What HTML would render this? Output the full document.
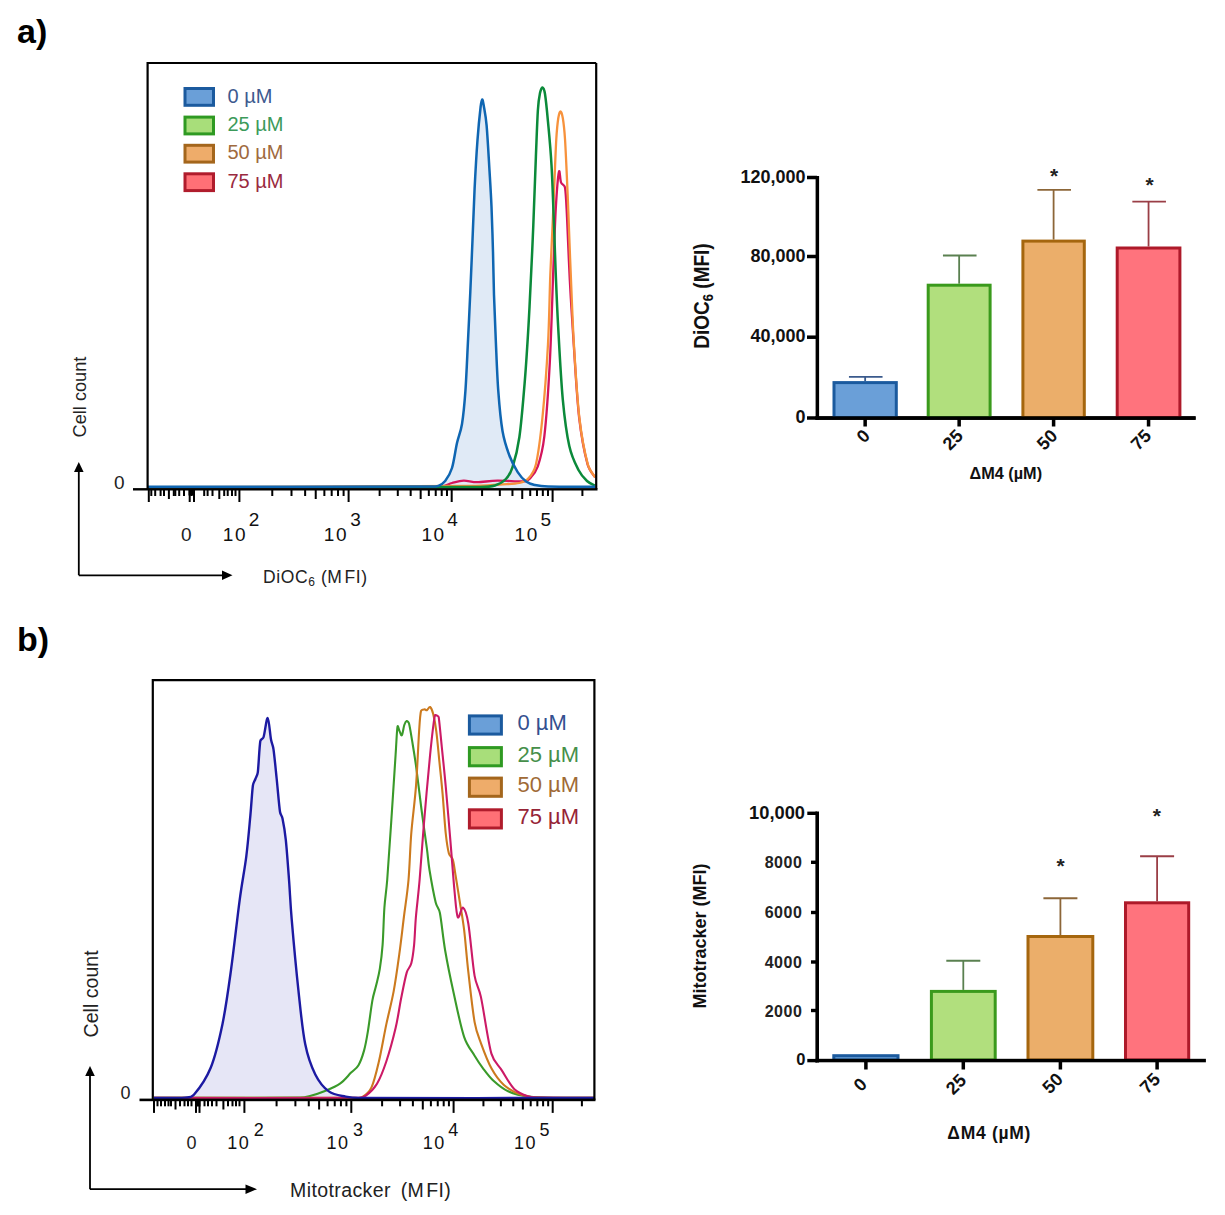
<!DOCTYPE html>
<html><head><meta charset="utf-8"><style>
html,body{margin:0;padding:0;background:#fff;}
body{width:1225px;height:1215px;overflow:hidden;}
svg{display:block;font-family:"Liberation Sans", sans-serif;}
</style></head><body>
<svg width="1225" height="1215" viewBox="0 0 1225 1215">
<rect width="1225" height="1215" fill="#fff"/>
<text x="17.00" y="42.50" font-size="34.00" fill="#000" font-weight="bold" text-anchor="start" >a)</text>
<text x="17.00" y="651.20" font-size="34.00" fill="#000" font-weight="bold" text-anchor="start" >b)</text>
<path d="M148.00,486.80 C195.00,486.77 381.60,486.77 430.00,486.60 C433.80,486.59 435.87,486.73 438.40,485.80 C440.93,484.87 442.93,483.97 445.20,481.00 C447.47,478.03 450.04,474.30 452.00,468.00 C453.97,461.67 455.33,450.33 457.00,443.00 C458.67,435.67 460.60,432.63 462.00,424.00 C463.40,415.37 464.40,405.10 465.40,391.20 C466.40,377.30 467.18,357.13 468.00,340.60 C468.82,324.07 469.55,308.77 470.30,292.00 C471.05,275.23 471.78,257.22 472.50,240.00 C473.22,222.78 473.77,205.37 474.60,188.70 C475.43,172.03 476.50,153.62 477.50,140.00 C478.50,126.38 479.82,113.75 480.60,107.00 C481.00,103.57 481.67,99.67 482.20,99.50 C482.73,99.33 483.29,103.03 483.80,106.00 C484.53,110.30 485.83,116.56 486.60,125.30 C487.55,136.07 488.68,157.02 489.50,170.60 C490.32,184.18 490.92,193.23 491.50,206.80 C492.08,220.37 492.58,237.30 493.00,252.00 C493.42,266.70 493.53,280.23 494.00,295.00 C494.47,309.77 495.08,324.57 495.80,340.60 C496.52,356.63 497.18,376.13 498.30,391.20 C499.42,406.27 500.67,420.32 502.50,431.00 C504.33,441.68 506.77,448.45 509.30,455.30 C511.83,462.15 514.90,467.73 517.70,472.10 C520.50,476.47 523.22,479.35 526.10,481.50 C528.98,483.65 531.35,484.15 535.00,485.00 C538.65,485.85 542.11,486.42 548.00,486.60 C558.00,486.90 587.17,486.77 595.00,486.80 L595,488 L148,488 Z" fill="#e0eaf6" stroke="none"/>
<path d="M148.00,487.20 C196.67,487.13 389.33,487.50 440.00,486.80 C445.66,486.72 448.05,484.03 452.00,483.00 C455.95,481.97 459.50,480.73 463.70,480.60 C467.90,480.47 471.57,482.20 477.20,482.20 C482.83,482.20 489.63,480.73 497.50,480.60 C505.37,480.47 518.98,481.75 524.40,481.40 C527.23,481.22 528.12,480.62 530.00,478.50 C532.23,475.98 535.69,472.47 537.80,466.30 C540.18,459.33 542.73,450.25 544.30,436.70 C546.30,419.42 548.30,390.38 549.80,362.60 C551.30,334.82 552.30,295.72 553.30,270.00 C554.30,244.28 554.87,224.63 555.80,208.30 C556.73,191.97 558.03,176.33 558.90,172.00 C559.77,167.67 559.98,179.72 561.00,182.30 C562.02,184.88 564.50,184.59 565.00,187.50 C566.00,193.28 566.31,203.71 567.00,217.00 C567.80,232.42 568.68,258.83 569.80,280.00 C570.92,301.17 572.13,321.00 573.70,344.00 C575.27,367.00 576.88,397.93 579.20,418.00 C581.52,438.07 584.93,454.50 587.60,464.40 C589.36,470.94 593.93,475.23 595.20,477.40" fill="none" stroke="#d4145c" stroke-width="2.3"/>
<path d="M148.00,487.20 C201.67,487.00 411.33,486.45 470.00,486.00 C483.52,485.90 491.78,485.00 500.00,484.50 C508.22,484.00 514.55,484.03 519.30,483.00 C523.84,482.01 525.73,481.40 528.50,478.30 C531.27,475.20 534.31,471.31 535.90,464.40 C538.22,454.35 540.38,438.07 542.40,418.00 C544.42,397.93 546.68,367.83 548.00,344.00 C549.32,320.17 549.50,295.67 550.30,275.00 C551.10,254.33 552.10,235.83 552.80,220.00 C553.50,204.17 553.92,193.50 554.50,180.00 C555.08,166.50 555.67,149.33 556.30,139.00 C556.88,129.53 557.60,122.58 558.30,118.00 C558.77,114.95 559.75,111.50 560.50,111.50 C561.25,111.50 562.30,114.94 562.80,118.00 C563.55,122.58 564.39,129.52 565.00,139.00 C565.78,151.17 566.75,173.70 567.50,191.00 C568.25,208.30 568.95,228.80 569.50,242.80 C570.05,256.80 570.17,260.51 570.80,275.00 C571.53,291.87 572.47,320.17 573.90,344.00 C575.33,367.83 577.08,397.93 579.40,418.00 C581.72,438.07 585.17,454.50 587.80,464.40 C589.53,470.91 593.97,475.23 595.20,477.40" fill="none" stroke="#f7923c" stroke-width="2.3"/>
<path d="M148.00,487.20 C203.33,487.17 422.17,487.28 480.00,487.00 C486.78,486.97 490.68,486.83 495.00,485.50 C499.32,484.17 502.97,482.08 505.90,479.00 C508.83,475.92 510.71,472.89 512.60,467.00 C514.85,460.00 517.45,450.70 519.40,437.00 C521.43,422.68 523.28,399.67 524.80,381.10 C526.32,362.53 527.42,344.12 528.50,325.60 C529.58,307.08 530.50,286.68 531.30,270.00 C532.10,253.32 532.53,244.43 533.30,225.50 C534.07,206.57 535.13,175.65 535.90,156.40 C536.67,137.15 537.22,120.57 537.90,110.00 C538.40,102.31 539.23,96.75 540.00,93.00 C540.54,90.34 541.67,87.33 542.50,87.50 C543.33,87.67 544.50,90.91 545.00,94.00 C545.92,99.72 546.92,109.97 548.00,121.80 C549.08,133.63 550.50,147.72 551.50,165.00 C552.50,182.28 553.32,208.00 554.00,225.50 C554.68,243.00 554.92,253.32 555.60,270.00 C556.28,286.68 556.90,304.00 558.10,325.60 C559.30,347.20 560.93,379.55 562.80,399.60 C564.67,419.65 566.68,434.17 569.30,445.90 C571.83,457.23 575.55,464.15 578.50,470.00 C581.32,475.59 584.25,478.42 587.00,481.00 C589.75,483.58 593.67,484.75 595.00,485.50" fill="none" stroke="#0b8a3a" stroke-width="2.5"/>
<path d="M148.00,486.80 C195.00,486.77 381.60,486.77 430.00,486.60 C433.80,486.59 435.87,486.73 438.40,485.80 C440.93,484.87 442.93,483.97 445.20,481.00 C447.47,478.03 450.04,474.30 452.00,468.00 C453.97,461.67 455.33,450.33 457.00,443.00 C458.67,435.67 460.60,432.63 462.00,424.00 C463.40,415.37 464.40,405.10 465.40,391.20 C466.40,377.30 467.18,357.13 468.00,340.60 C468.82,324.07 469.55,308.77 470.30,292.00 C471.05,275.23 471.78,257.22 472.50,240.00 C473.22,222.78 473.77,205.37 474.60,188.70 C475.43,172.03 476.50,153.62 477.50,140.00 C478.50,126.38 479.82,113.75 480.60,107.00 C481.00,103.57 481.67,99.67 482.20,99.50 C482.73,99.33 483.29,103.03 483.80,106.00 C484.53,110.30 485.83,116.56 486.60,125.30 C487.55,136.07 488.68,157.02 489.50,170.60 C490.32,184.18 490.92,193.23 491.50,206.80 C492.08,220.37 492.58,237.30 493.00,252.00 C493.42,266.70 493.53,280.23 494.00,295.00 C494.47,309.77 495.08,324.57 495.80,340.60 C496.52,356.63 497.18,376.13 498.30,391.20 C499.42,406.27 500.67,420.32 502.50,431.00 C504.33,441.68 506.77,448.45 509.30,455.30 C511.83,462.15 514.90,467.73 517.70,472.10 C520.50,476.47 523.22,479.35 526.10,481.50 C528.98,483.65 531.35,484.15 535.00,485.00 C538.65,485.85 542.11,486.42 548.00,486.60 C558.00,486.90 587.17,486.77 595.00,486.80" fill="none" stroke="#0f66b2" stroke-width="2.5"/>
<path d="M147.60,489.00 L147.60,63.00 L596.20,63.00" fill="none" stroke="#000" stroke-width="2.2"/>
<path d="M596.20,63.00 L596.20,489.00" fill="none" stroke="#000" stroke-width="2.2"/>
<rect x="133" y="488.1" width="464.5" height="2.4" fill="#000"/>
<rect x="188.5" y="489" width="6.5" height="6.5" fill="#000"/>
<rect x="147.80" y="490.00" width="2" height="12.00" fill="#000"/>
<rect x="188.70" y="490.00" width="2" height="12.00" fill="#000"/>
<rect x="193.00" y="490.00" width="2" height="12.00" fill="#000"/>
<rect x="238.40" y="490.00" width="2" height="12.00" fill="#000"/>
<rect x="347.60" y="490.00" width="2" height="12.00" fill="#000"/>
<rect x="450.70" y="490.00" width="2" height="12.00" fill="#000"/>
<rect x="551.60" y="490.00" width="2" height="12.00" fill="#000"/>
<rect x="167.90" y="490.00" width="2" height="9.00" fill="#000"/>
<rect x="218.30" y="490.00" width="2" height="9.00" fill="#000"/>
<rect x="314.73" y="490.00" width="2" height="9.00" fill="#000"/>
<rect x="419.66" y="490.00" width="2" height="9.00" fill="#000"/>
<rect x="521.23" y="490.00" width="2" height="9.00" fill="#000"/>
<rect x="150.30" y="490.00" width="2" height="6.00" fill="#000"/>
<rect x="154.20" y="490.00" width="2" height="6.00" fill="#000"/>
<rect x="159.60" y="490.00" width="2" height="6.00" fill="#000"/>
<rect x="163.00" y="490.00" width="2" height="6.00" fill="#000"/>
<rect x="172.80" y="490.00" width="2" height="6.00" fill="#000"/>
<rect x="174.30" y="490.00" width="2" height="6.00" fill="#000"/>
<rect x="178.20" y="490.00" width="2" height="6.00" fill="#000"/>
<rect x="183.00" y="490.00" width="2" height="6.00" fill="#000"/>
<rect x="190.50" y="490.00" width="2" height="6.00" fill="#000"/>
<rect x="203.20" y="490.00" width="2" height="6.00" fill="#000"/>
<rect x="206.60" y="490.00" width="2" height="6.00" fill="#000"/>
<rect x="211.50" y="490.00" width="2" height="6.00" fill="#000"/>
<rect x="223.20" y="490.00" width="2" height="6.00" fill="#000"/>
<rect x="226.70" y="490.00" width="2" height="6.00" fill="#000"/>
<rect x="231.00" y="490.00" width="2" height="6.00" fill="#000"/>
<rect x="234.50" y="490.00" width="2" height="6.00" fill="#000"/>
<rect x="271.27" y="490.00" width="2" height="6.00" fill="#000"/>
<rect x="290.50" y="490.00" width="2" height="6.00" fill="#000"/>
<rect x="304.14" y="490.00" width="2" height="6.00" fill="#000"/>
<rect x="323.37" y="490.00" width="2" height="6.00" fill="#000"/>
<rect x="330.68" y="490.00" width="2" height="6.00" fill="#000"/>
<rect x="337.02" y="490.00" width="2" height="6.00" fill="#000"/>
<rect x="342.60" y="490.00" width="2" height="6.00" fill="#000"/>
<rect x="378.64" y="490.00" width="2" height="6.00" fill="#000"/>
<rect x="396.79" y="490.00" width="2" height="6.00" fill="#000"/>
<rect x="409.67" y="490.00" width="2" height="6.00" fill="#000"/>
<rect x="427.83" y="490.00" width="2" height="6.00" fill="#000"/>
<rect x="434.73" y="490.00" width="2" height="6.00" fill="#000"/>
<rect x="440.71" y="490.00" width="2" height="6.00" fill="#000"/>
<rect x="445.98" y="490.00" width="2" height="6.00" fill="#000"/>
<rect x="481.07" y="490.00" width="2" height="6.00" fill="#000"/>
<rect x="498.84" y="490.00" width="2" height="6.00" fill="#000"/>
<rect x="511.45" y="490.00" width="2" height="6.00" fill="#000"/>
<rect x="529.22" y="490.00" width="2" height="6.00" fill="#000"/>
<rect x="535.97" y="490.00" width="2" height="6.00" fill="#000"/>
<rect x="541.82" y="490.00" width="2" height="6.00" fill="#000"/>
<rect x="546.98" y="490.00" width="2" height="6.00" fill="#000"/>
<rect x="581.40" y="490.00" width="2" height="6.00" fill="#000"/>
<text x="114.00" y="489.00" font-size="19.00" fill="#222" font-weight="normal" text-anchor="start" >0</text>
<text x="181.00" y="540.50" font-size="19.00" fill="#222" font-weight="normal" text-anchor="start" >0</text>
<text x="222.80" y="540.50" font-size="19.00" fill="#111" font-weight="normal" text-anchor="start" >1<tspan dx="1.5">0</tspan></text>
<text x="248.80" y="526.00" font-size="19.00" fill="#111" font-weight="normal" text-anchor="start" >2</text>
<text x="323.80" y="540.50" font-size="19.00" fill="#111" font-weight="normal" text-anchor="start" >1<tspan dx="1.5">0</tspan></text>
<text x="350.20" y="526.00" font-size="19.00" fill="#111" font-weight="normal" text-anchor="start" >3</text>
<text x="421.50" y="540.50" font-size="19.00" fill="#111" font-weight="normal" text-anchor="start" >1<tspan dx="1.5">0</tspan></text>
<text x="447.20" y="526.00" font-size="19.00" fill="#111" font-weight="normal" text-anchor="start" >4</text>
<text x="514.60" y="540.50" font-size="19.00" fill="#111" font-weight="normal" text-anchor="start" >1<tspan dx="1.5">0</tspan></text>
<text x="540.60" y="526.00" font-size="19.00" fill="#111" font-weight="normal" text-anchor="start" >5</text>
<rect x="185.00" y="88.50" width="28.50" height="16.80" fill="#6a9fd8" stroke="#1b5a9e" stroke-width="3"/>
<text x="227.50" y="102.50" font-size="20.00" fill="#3d5a8f" font-weight="normal" text-anchor="start" >0 µM</text>
<rect x="185.00" y="117.10" width="28.50" height="16.80" fill="#a8de7a" stroke="#2f9a22" stroke-width="3"/>
<text x="227.50" y="131.10" font-size="20.00" fill="#3c9a5a" font-weight="normal" text-anchor="start" >25 µM</text>
<rect x="185.00" y="145.30" width="28.50" height="16.80" fill="#eeac6a" stroke="#a4661c" stroke-width="3"/>
<text x="227.50" y="159.30" font-size="20.00" fill="#a06a3e" font-weight="normal" text-anchor="start" >50 µM</text>
<rect x="185.00" y="173.80" width="28.50" height="16.80" fill="#ff7076" stroke="#b01c2c" stroke-width="3"/>
<text x="227.50" y="187.80" font-size="20.00" fill="#9a2a40" font-weight="normal" text-anchor="start" >75 µM</text>
<text transform="translate(86.3,437.5) rotate(-90)" font-size="18.2" fill="#222">Cell count</text>
<path d="M78.8,575.3 L78.8,470 M78.8,575.3 L224,575.3" stroke="#000" stroke-width="1.8" fill="none"/>
<path d="M74,472 L78.8,462 L83.6,472 Z" fill="#000"/>
<path d="M222,570.5 L232.5,575.3 L222,580.1 Z" fill="#000"/>
<text x="263.00" y="583.30" font-size="17.50" fill="#222" font-weight="normal" text-anchor="start" letter-spacing="0.6">DiOC<tspan font-size="12" dy="3">6</tspan><tspan dy="-3"> (M</tspan><tspan dx="2">FI)</tspan></text>
<rect x="815.6" y="176" width="3.5" height="244" fill="#000"/>
<rect x="815.6" y="416.3" width="380" height="3.5" fill="#000"/>
<rect x="807" y="175.75" width="10" height="3.5" fill="#000"/>
<text x="805.50" y="182.70" font-size="18.00" fill="#111" font-weight="bold" text-anchor="end" >120,000</text>
<rect x="807" y="254.75" width="10" height="3.5" fill="#000"/>
<text x="805.50" y="261.70" font-size="18.00" fill="#111" font-weight="bold" text-anchor="end" >80,000</text>
<rect x="807" y="335.45" width="10" height="3.5" fill="#000"/>
<text x="805.50" y="342.40" font-size="18.00" fill="#111" font-weight="bold" text-anchor="end" >40,000</text>
<rect x="807" y="416.25" width="10" height="3.5" fill="#000"/>
<text x="805.50" y="423.20" font-size="18.00" fill="#111" font-weight="bold" text-anchor="end" >0</text>
<line x1="865.15" y1="381.10" x2="865.15" y2="376.90" stroke="#3a5a8c" stroke-width="1.8"/>
<line x1="848.95" y1="376.90" x2="882.55" y2="376.90" stroke="#3a5a8c" stroke-width="1.9"/>
<rect x="834.00" y="382.60" width="62.30" height="34.90" fill="#6a9fd8" stroke="#1b5a9e" stroke-width="3"/>
<rect x="863.40" y="419" width="3.5" height="7.5" fill="#000"/>
<line x1="959.15" y1="283.70" x2="959.15" y2="255.50" stroke="#5a8050" stroke-width="1.8"/>
<line x1="942.95" y1="255.50" x2="976.55" y2="255.50" stroke="#5a8050" stroke-width="1.9"/>
<rect x="928.20" y="285.20" width="61.90" height="132.30" fill="#b1df7d" stroke="#3a9a1c" stroke-width="3"/>
<rect x="957.40" y="419" width="3.5" height="7.5" fill="#000"/>
<line x1="1053.60" y1="239.60" x2="1053.60" y2="189.90" stroke="#8c6638" stroke-width="1.8"/>
<line x1="1037.40" y1="189.90" x2="1071.00" y2="189.90" stroke="#8c6638" stroke-width="1.9"/>
<rect x="1022.90" y="241.10" width="61.40" height="176.40" fill="#ebae6a" stroke="#a5660e" stroke-width="3"/>
<rect x="1051.85" y="419" width="3.5" height="7.5" fill="#000"/>
<line x1="1148.55" y1="246.50" x2="1148.55" y2="201.60" stroke="#9a3e46" stroke-width="1.8"/>
<line x1="1132.35" y1="201.60" x2="1165.95" y2="201.60" stroke="#9a3e46" stroke-width="1.9"/>
<rect x="1117.20" y="248.00" width="62.70" height="169.50" fill="#ff737d" stroke="#ae1a2a" stroke-width="3"/>
<rect x="1146.80" y="419" width="3.5" height="7.5" fill="#000"/>
<rect x="815.6" y="416.3" width="380" height="3.5" fill="#000"/>
<text x="1054.20" y="183.00" font-size="21.00" fill="#222" font-weight="bold" text-anchor="middle" >*</text>
<text x="1149.50" y="191.50" font-size="21.00" fill="#222" font-weight="bold" text-anchor="middle" >*</text>
<text transform="translate(871.00,437) rotate(-45)" font-size="18" font-weight="bold" fill="#111" text-anchor="end">0</text>
<text transform="translate(964.20,437) rotate(-45)" font-size="18" font-weight="bold" fill="#111" text-anchor="end">25</text>
<text transform="translate(1058.50,437) rotate(-45)" font-size="18" font-weight="bold" fill="#111" text-anchor="end">50</text>
<text transform="translate(1152.30,437) rotate(-45)" font-size="18" font-weight="bold" fill="#111" text-anchor="end">75</text>
<text x="1005.80" y="479.00" font-size="16.30" fill="#111" font-weight="bold" text-anchor="middle" >ΔM4 (µM)</text>
<text transform="translate(708.6,296) rotate(-90) scale(1,1.13)" font-size="19" font-weight="bold" fill="#111" text-anchor="middle">DiOC<tspan font-size="13" dy="4">6</tspan><tspan dy="-4"> (MFI)</tspan></text>
<path d="M154.00,1098.00 C159.17,1097.93 178.35,1098.15 185.00,1097.60 C189.20,1097.25 191.15,1097.89 193.90,1094.70 C198.18,1089.72 205.93,1079.50 210.70,1067.70 C215.47,1055.90 219.12,1040.18 222.50,1023.90 C225.88,1007.62 228.13,990.68 231.00,970.00 C233.87,949.32 237.15,918.75 239.70,899.80 C242.25,880.85 244.52,870.42 246.30,856.30 C248.08,842.18 249.30,826.90 250.40,815.10 C251.50,803.30 252.07,791.52 252.90,785.50 C253.33,782.40 254.58,781.18 255.40,779.00 C256.22,776.82 257.39,775.53 257.80,772.40 C258.62,766.08 259.33,747.00 260.30,741.10 C260.68,738.76 262.87,739.25 263.60,737.00 C264.83,733.17 266.47,717.68 267.70,718.10 C268.93,718.52 270.03,734.30 271.00,739.50 C271.83,743.97 272.85,744.80 273.50,749.30 C274.45,755.88 275.62,768.58 276.70,779.00 C277.78,789.42 279.03,805.23 280.00,811.80 C280.46,814.94 281.86,815.29 282.50,818.40 C283.47,823.07 284.78,830.11 285.80,839.80 C286.90,850.22 288.12,867.65 289.10,880.90 C290.08,894.15 290.23,902.04 291.70,919.30 C293.25,937.50 296.15,969.30 298.40,990.10 C300.65,1010.90 302.38,1030.03 305.20,1044.10 C308.02,1058.17 311.37,1066.62 315.30,1074.50 C319.23,1082.38 323.73,1087.72 328.80,1091.40 C333.87,1095.08 340.50,1095.50 345.70,1096.60 C350.90,1097.70 353.53,1097.96 360.00,1098.00 C401.38,1098.23 555.00,1098.00 594.00,1098.00 L594,1099 L154,1099 Z" fill="#e6e6f6" stroke="none"/>
<path d="M154.00,1097.80 C178.33,1097.77 274.00,1097.90 300.00,1097.60 C304.56,1097.55 305.83,1097.10 310.00,1096.00 C314.17,1094.90 320.00,1093.05 325.00,1091.00 C330.00,1088.95 335.65,1086.77 340.00,1083.70 C344.35,1080.63 348.02,1075.68 351.10,1072.60 C354.18,1069.52 356.33,1068.90 358.50,1065.20 C360.67,1061.50 362.55,1055.95 364.10,1050.40 C365.65,1044.85 366.42,1040.23 367.80,1031.90 C369.18,1023.57 371.02,1008.12 372.40,1000.40 C373.61,993.64 374.87,990.85 376.10,985.60 C377.33,980.35 378.72,975.70 379.80,968.90 C380.88,962.10 381.83,954.98 382.60,944.80 C383.37,934.62 383.63,918.60 384.40,907.80 C385.17,897.00 386.20,892.53 387.20,880.00 C388.30,866.23 389.60,846.07 391.00,825.20 C392.40,804.33 394.52,771.23 395.60,754.80 C396.44,742.11 396.83,730.52 397.50,726.60 C397.89,724.32 398.87,729.87 399.60,731.30 C400.33,732.73 401.12,736.25 401.90,735.20 C402.68,734.15 403.52,727.35 404.30,725.00 C404.94,723.07 405.82,721.35 406.60,721.10 C407.38,720.85 408.59,722.03 409.00,723.50 C409.92,726.77 410.93,733.67 412.10,740.70 C413.27,747.73 414.46,754.42 416.00,765.70 C417.57,777.17 419.68,795.67 421.50,809.50 C423.32,823.33 425.57,838.62 426.90,848.70 C428.17,858.27 428.03,861.03 429.50,870.00 C430.97,878.97 433.97,895.33 435.70,902.50 C436.90,907.45 438.92,908.01 439.90,913.00 C441.48,921.03 442.92,937.42 445.20,950.70 C447.48,963.98 450.45,978.35 453.60,992.70 C456.75,1007.05 460.60,1026.30 464.10,1036.80 C467.18,1046.03 471.45,1050.45 474.60,1055.70 C477.75,1060.95 479.85,1064.12 483.00,1068.30 C486.15,1072.48 489.32,1076.97 493.50,1080.80 C497.68,1084.63 502.17,1088.67 508.10,1091.30 C514.03,1093.93 520.45,1095.52 529.10,1096.60 C537.75,1097.68 549.18,1097.60 560.00,1097.80 C570.82,1098.00 588.33,1097.80 594.00,1097.80" fill="none" stroke="#3a9a2a" stroke-width="2.1"/>
<path d="M154.00,1097.80 C187.50,1097.80 320.30,1097.90 355.00,1097.80 C358.25,1097.79 359.45,1098.93 362.20,1097.20 C364.95,1095.47 368.92,1092.91 371.50,1087.40 C374.28,1081.45 376.43,1072.00 378.90,1061.50 C381.37,1051.00 383.83,1036.13 386.30,1024.40 C388.77,1012.67 391.53,1002.82 393.70,991.10 C395.87,979.38 397.60,966.45 399.30,954.10 C401.00,941.75 402.37,929.35 403.90,917.00 C405.43,904.65 407.27,894.00 408.50,880.00 C409.73,866.00 410.05,848.65 411.30,833.00 C412.55,817.35 414.70,803.05 416.00,786.10 C417.30,769.15 418.27,743.82 419.10,731.30 C419.71,722.15 420.08,714.65 421.00,711.00 C421.43,709.28 423.62,709.53 424.60,709.40 C425.58,709.27 425.98,710.60 426.90,710.20 C427.82,709.80 429.05,706.35 430.10,707.00 C431.15,707.65 432.34,710.72 433.20,714.10 C434.23,718.15 435.29,723.50 436.30,731.30 C437.35,739.38 438.45,752.17 439.50,762.60 C440.55,773.03 441.57,782.17 442.60,793.90 C443.63,805.63 444.65,823.08 445.70,833.00 C446.68,842.24 447.72,848.97 448.90,853.40 C449.75,856.58 451.84,856.45 452.80,859.60 C453.90,863.20 454.35,868.06 455.50,875.00 C456.68,882.15 458.47,893.38 459.90,902.50 C461.33,911.62 462.70,918.17 464.10,929.70 C465.50,941.23 466.55,956.30 468.30,971.70 C470.05,987.10 472.50,1010.20 474.60,1022.10 C476.31,1031.82 478.10,1035.40 480.90,1043.10 C483.70,1050.80 487.57,1061.32 491.40,1068.30 C495.23,1075.28 499.02,1080.63 503.90,1085.00 C508.78,1089.37 515.10,1092.40 520.70,1094.50 C526.30,1096.60 529.82,1097.25 537.50,1097.60 C549.72,1098.15 584.58,1097.77 594.00,1097.80" fill="none" stroke="#cc7a1e" stroke-width="2.1"/>
<path d="M154.00,1097.80 C188.00,1097.80 322.68,1098.15 358.00,1097.80 C361.68,1097.76 362.95,1097.89 365.90,1095.70 C369.07,1093.35 373.60,1089.40 377.00,1083.70 C380.40,1078.00 383.20,1070.77 386.30,1061.50 C389.40,1052.23 393.13,1038.60 395.60,1028.10 C398.07,1017.60 399.25,1007.75 401.10,998.50 C402.95,989.25 405.00,978.47 406.70,972.60 C408.00,968.12 410.10,967.81 411.30,963.30 C412.53,958.67 413.33,952.52 414.10,944.80 C414.87,937.08 414.98,927.80 415.90,917.00 C416.82,906.20 418.28,895.30 419.60,880.00 C420.92,864.70 422.05,846.07 423.80,825.20 C425.55,804.33 428.27,773.07 430.10,754.80 C431.87,737.12 433.63,722.13 434.80,715.60 C434.98,714.58 436.45,715.33 437.10,715.60 C437.75,715.87 438.55,716.19 438.70,717.20 C439.48,722.43 440.63,735.52 441.80,747.00 C442.97,758.48 444.27,770.47 445.70,786.10 C447.13,801.73 448.92,823.15 450.40,840.80 C451.88,858.45 453.37,879.27 454.60,892.00 C455.70,903.38 456.40,914.58 457.80,917.20 C459.20,919.82 461.25,906.65 463.00,907.70 C464.75,908.75 467.04,916.11 468.30,923.50 C470.23,934.87 472.50,963.67 474.60,975.90 C476.27,985.62 478.81,987.26 480.90,996.90 C483.70,1009.85 487.92,1041.35 491.40,1053.60 C493.83,1062.15 497.97,1064.47 501.80,1070.40 C505.63,1076.33 509.85,1084.83 514.40,1089.20 C518.95,1093.57 524.83,1095.20 529.10,1096.60 C533.37,1098.00 535.08,1097.51 540.00,1097.60 C550.82,1097.80 585.00,1097.77 594.00,1097.80" fill="none" stroke="#cc1a66" stroke-width="2.1"/>
<path d="M154.00,1098.00 C159.17,1097.93 178.35,1098.15 185.00,1097.60 C189.20,1097.25 191.15,1097.89 193.90,1094.70 C198.18,1089.72 205.93,1079.50 210.70,1067.70 C215.47,1055.90 219.12,1040.18 222.50,1023.90 C225.88,1007.62 228.13,990.68 231.00,970.00 C233.87,949.32 237.15,918.75 239.70,899.80 C242.25,880.85 244.52,870.42 246.30,856.30 C248.08,842.18 249.30,826.90 250.40,815.10 C251.50,803.30 252.07,791.52 252.90,785.50 C253.33,782.40 254.58,781.18 255.40,779.00 C256.22,776.82 257.39,775.53 257.80,772.40 C258.62,766.08 259.33,747.00 260.30,741.10 C260.68,738.76 262.87,739.25 263.60,737.00 C264.83,733.17 266.47,717.68 267.70,718.10 C268.93,718.52 270.03,734.30 271.00,739.50 C271.83,743.97 272.85,744.80 273.50,749.30 C274.45,755.88 275.62,768.58 276.70,779.00 C277.78,789.42 279.03,805.23 280.00,811.80 C280.46,814.94 281.86,815.29 282.50,818.40 C283.47,823.07 284.78,830.11 285.80,839.80 C286.90,850.22 288.12,867.65 289.10,880.90 C290.08,894.15 290.23,902.04 291.70,919.30 C293.25,937.50 296.15,969.30 298.40,990.10 C300.65,1010.90 302.38,1030.03 305.20,1044.10 C308.02,1058.17 311.37,1066.62 315.30,1074.50 C319.23,1082.38 323.73,1087.72 328.80,1091.40 C333.87,1095.08 340.50,1095.50 345.70,1096.60 C350.90,1097.70 353.53,1097.96 360.00,1098.00 C401.38,1098.23 555.00,1098.00 594.00,1098.00" fill="none" stroke="#1c1aa2" stroke-width="2.4"/>
<path d="M152.80,1099.80 L152.80,680.20 L594.40,680.20 L594.40,1099.80" fill="none" stroke="#000" stroke-width="2.2"/>
<rect x="139.5" y="1098.6" width="456" height="2.6" fill="#000"/>
<rect x="195" y="1100" width="5.5" height="6.5" fill="#000"/>
<rect x="153.00" y="1100.50" width="2" height="12.40" fill="#000"/>
<rect x="195.00" y="1100.50" width="2" height="12.40" fill="#000"/>
<rect x="198.50" y="1100.50" width="2" height="12.40" fill="#000"/>
<rect x="243.40" y="1100.50" width="2" height="12.40" fill="#000"/>
<rect x="350.30" y="1100.50" width="2" height="12.40" fill="#000"/>
<rect x="452.60" y="1100.50" width="2" height="12.40" fill="#000"/>
<rect x="551.70" y="1100.50" width="2" height="12.40" fill="#000"/>
<rect x="174.50" y="1100.50" width="2" height="9.00" fill="#000"/>
<rect x="222.40" y="1100.50" width="2" height="9.00" fill="#000"/>
<rect x="318.12" y="1100.50" width="2" height="9.00" fill="#000"/>
<rect x="421.80" y="1100.50" width="2" height="9.00" fill="#000"/>
<rect x="521.87" y="1100.50" width="2" height="9.00" fill="#000"/>
<rect x="156.50" y="1100.50" width="2" height="5.80" fill="#000"/>
<rect x="160.00" y="1100.50" width="2" height="5.80" fill="#000"/>
<rect x="164.00" y="1100.50" width="2" height="5.80" fill="#000"/>
<rect x="167.50" y="1100.50" width="2" height="5.80" fill="#000"/>
<rect x="170.00" y="1100.50" width="2" height="5.80" fill="#000"/>
<rect x="179.00" y="1100.50" width="2" height="5.80" fill="#000"/>
<rect x="183.50" y="1100.50" width="2" height="5.80" fill="#000"/>
<rect x="187.00" y="1100.50" width="2" height="5.80" fill="#000"/>
<rect x="190.50" y="1100.50" width="2" height="5.80" fill="#000"/>
<rect x="203.50" y="1100.50" width="2" height="5.80" fill="#000"/>
<rect x="207.00" y="1100.50" width="2" height="5.80" fill="#000"/>
<rect x="211.00" y="1100.50" width="2" height="5.80" fill="#000"/>
<rect x="215.50" y="1100.50" width="2" height="5.80" fill="#000"/>
<rect x="227.00" y="1100.50" width="2" height="5.80" fill="#000"/>
<rect x="231.50" y="1100.50" width="2" height="5.80" fill="#000"/>
<rect x="235.00" y="1100.50" width="2" height="5.80" fill="#000"/>
<rect x="238.50" y="1100.50" width="2" height="5.80" fill="#000"/>
<rect x="275.58" y="1100.50" width="2" height="5.80" fill="#000"/>
<rect x="294.40" y="1100.50" width="2" height="5.80" fill="#000"/>
<rect x="307.76" y="1100.50" width="2" height="5.80" fill="#000"/>
<rect x="326.58" y="1100.50" width="2" height="5.80" fill="#000"/>
<rect x="333.74" y="1100.50" width="2" height="5.80" fill="#000"/>
<rect x="339.94" y="1100.50" width="2" height="5.80" fill="#000"/>
<rect x="345.41" y="1100.50" width="2" height="5.80" fill="#000"/>
<rect x="381.10" y="1100.50" width="2" height="5.80" fill="#000"/>
<rect x="399.11" y="1100.50" width="2" height="5.80" fill="#000"/>
<rect x="411.89" y="1100.50" width="2" height="5.80" fill="#000"/>
<rect x="429.90" y="1100.50" width="2" height="5.80" fill="#000"/>
<rect x="436.75" y="1100.50" width="2" height="5.80" fill="#000"/>
<rect x="442.69" y="1100.50" width="2" height="5.80" fill="#000"/>
<rect x="447.92" y="1100.50" width="2" height="5.80" fill="#000"/>
<rect x="482.43" y="1100.50" width="2" height="5.80" fill="#000"/>
<rect x="499.88" y="1100.50" width="2" height="5.80" fill="#000"/>
<rect x="512.26" y="1100.50" width="2" height="5.80" fill="#000"/>
<rect x="529.71" y="1100.50" width="2" height="5.80" fill="#000"/>
<rect x="536.35" y="1100.50" width="2" height="5.80" fill="#000"/>
<rect x="542.10" y="1100.50" width="2" height="5.80" fill="#000"/>
<rect x="547.17" y="1100.50" width="2" height="5.80" fill="#000"/>
<rect x="580.90" y="1100.50" width="2" height="5.80" fill="#000"/>
<text x="120.50" y="1098.60" font-size="18.00" fill="#222" font-weight="normal" text-anchor="start" >0</text>
<text x="186.50" y="1149.20" font-size="18.00" fill="#222" font-weight="normal" text-anchor="start" >0</text>
<text x="227.30" y="1149.20" font-size="18.00" fill="#111" font-weight="normal" text-anchor="start" >1<tspan dx="1.5">0</tspan></text>
<text x="253.80" y="1136.20" font-size="18.00" fill="#111" font-weight="normal" text-anchor="start" >2</text>
<text x="326.50" y="1149.20" font-size="18.00" fill="#111" font-weight="normal" text-anchor="start" >1<tspan dx="1.5">0</tspan></text>
<text x="353.00" y="1136.20" font-size="18.00" fill="#111" font-weight="normal" text-anchor="start" >3</text>
<text x="422.70" y="1149.20" font-size="18.00" fill="#111" font-weight="normal" text-anchor="start" >1<tspan dx="1.5">0</tspan></text>
<text x="448.20" y="1136.20" font-size="18.00" fill="#111" font-weight="normal" text-anchor="start" >4</text>
<text x="514.00" y="1149.20" font-size="18.00" fill="#111" font-weight="normal" text-anchor="start" >1<tspan dx="1.5">0</tspan></text>
<text x="539.50" y="1136.20" font-size="18.00" fill="#111" font-weight="normal" text-anchor="start" >5</text>
<rect x="469.40" y="715.90" width="32.00" height="18.20" fill="#6a9fd8" stroke="#1b5a9e" stroke-width="3"/>
<text x="517.50" y="730.00" font-size="22.00" fill="#34508f" font-weight="normal" text-anchor="start" >0 µM</text>
<rect x="469.40" y="747.60" width="32.00" height="18.20" fill="#a8de7a" stroke="#2f9a22" stroke-width="3"/>
<text x="517.50" y="761.70" font-size="22.00" fill="#468f4a" font-weight="normal" text-anchor="start" >25 µM</text>
<rect x="469.40" y="778.10" width="32.00" height="18.20" fill="#eeac6a" stroke="#a4661c" stroke-width="3"/>
<text x="517.50" y="792.20" font-size="22.00" fill="#a06a36" font-weight="normal" text-anchor="start" >50 µM</text>
<rect x="469.40" y="809.80" width="32.00" height="18.20" fill="#ff7076" stroke="#b01c2c" stroke-width="3"/>
<text x="517.50" y="823.90" font-size="22.00" fill="#962436" font-weight="normal" text-anchor="start" >75 µM</text>
<text transform="translate(97.5,1037.5) rotate(-90)" font-size="19.6" fill="#222">Cell count</text>
<path d="M90,1189.2 L90,1075 M90,1189.2 L247,1189.2" stroke="#000" stroke-width="1.8" fill="none"/>
<path d="M85.2,1076 L90,1066 L94.8,1076 Z" fill="#000"/>
<path d="M245.5,1184.4 L257,1189.2 L245.5,1194 Z" fill="#000"/>
<text x="290.00" y="1196.50" font-size="19.50" fill="#222" font-weight="normal" text-anchor="start" letter-spacing="0.4">Mitotracker <tspan dx="4">(M</tspan><tspan dx="2">FI)</tspan></text>
<rect x="815.4" y="811.5" width="3.6" height="251" fill="#000"/>
<rect x="807.30" y="811.60" width="9.70" height="3.4" fill="#000"/>
<rect x="811.00" y="860.60" width="6.00" height="3.4" fill="#000"/>
<rect x="811.00" y="910.80" width="6.00" height="3.4" fill="#000"/>
<rect x="811.00" y="960.30" width="6.00" height="3.4" fill="#000"/>
<rect x="811.00" y="1008.80" width="6.00" height="3.4" fill="#000"/>
<rect x="807.30" y="1058.90" width="9.70" height="3.4" fill="#000"/>
<rect x="833.80" y="1055.70" width="64.20" height="4.30" fill="#6a9fd8" stroke="#1b5a9e" stroke-width="3"/>
<rect x="864.15" y="1061" width="3.5" height="8.5" fill="#000"/>
<line x1="963.30" y1="989.90" x2="963.30" y2="960.80" stroke="#5a8050" stroke-width="1.8"/>
<line x1="946.30" y1="960.80" x2="980.30" y2="960.80" stroke="#5a8050" stroke-width="1.9"/>
<rect x="931.40" y="991.40" width="63.80" height="68.60" fill="#b1df7d" stroke="#3a9a1c" stroke-width="3"/>
<rect x="961.55" y="1061" width="3.5" height="8.5" fill="#000"/>
<line x1="1060.40" y1="935.00" x2="1060.40" y2="898.30" stroke="#8c6638" stroke-width="1.8"/>
<line x1="1043.40" y1="898.30" x2="1077.40" y2="898.30" stroke="#8c6638" stroke-width="1.9"/>
<rect x="1028.00" y="936.50" width="64.80" height="123.50" fill="#ebae6a" stroke="#a5660e" stroke-width="3"/>
<rect x="1058.65" y="1061" width="3.5" height="8.5" fill="#000"/>
<line x1="1157.10" y1="901.30" x2="1157.10" y2="856.30" stroke="#9a3e46" stroke-width="1.8"/>
<line x1="1140.10" y1="856.30" x2="1174.10" y2="856.30" stroke="#9a3e46" stroke-width="1.9"/>
<rect x="1125.50" y="902.80" width="63.20" height="157.20" fill="#ff737d" stroke="#ae1a2a" stroke-width="3"/>
<rect x="1155.35" y="1061" width="3.5" height="8.5" fill="#000"/>
<rect x="815.4" y="1058.8" width="390.5" height="3.5" fill="#000"/>
<text x="805.00" y="818.50" font-size="18.30" fill="#111" font-weight="bold" text-anchor="end" >10,000</text>
<text x="802.30" y="867.50" font-size="16.00" fill="#222" font-weight="bold" text-anchor="end" letter-spacing="0.5">8000</text>
<text x="802.30" y="917.50" font-size="16.00" fill="#222" font-weight="bold" text-anchor="end" letter-spacing="0.5">6000</text>
<text x="802.30" y="968.30" font-size="16.00" fill="#222" font-weight="bold" text-anchor="end" letter-spacing="0.5">4000</text>
<text x="802.30" y="1017.30" font-size="16.00" fill="#222" font-weight="bold" text-anchor="end" letter-spacing="0.5">2000</text>
<text x="805.50" y="1065.00" font-size="16.50" fill="#111" font-weight="bold" text-anchor="end" >0</text>
<text x="1060.70" y="872.50" font-size="21.00" fill="#222" font-weight="bold" text-anchor="middle" >*</text>
<text x="1156.80" y="822.50" font-size="21.00" fill="#222" font-weight="bold" text-anchor="middle" >*</text>
<text transform="translate(868.00,1085.50) rotate(-45)" font-size="18" font-weight="bold" fill="#111" text-anchor="end">0</text>
<text transform="translate(967.30,1081.50) rotate(-45)" font-size="18" font-weight="bold" fill="#111" text-anchor="end">25</text>
<text transform="translate(1064.00,1080.50) rotate(-45)" font-size="18" font-weight="bold" fill="#111" text-anchor="end">50</text>
<text transform="translate(1161.30,1080.50) rotate(-45)" font-size="18" font-weight="bold" fill="#111" text-anchor="end">75</text>
<text x="989.20" y="1139.00" font-size="17.50" fill="#111" font-weight="bold" text-anchor="middle" letter-spacing="0.7">ΔM4 (µM)</text>
<text transform="translate(706,936) rotate(-90)" font-size="18" font-weight="bold" fill="#111" text-anchor="middle">Mitotracker (MFI)</text>
</svg></body></html>
